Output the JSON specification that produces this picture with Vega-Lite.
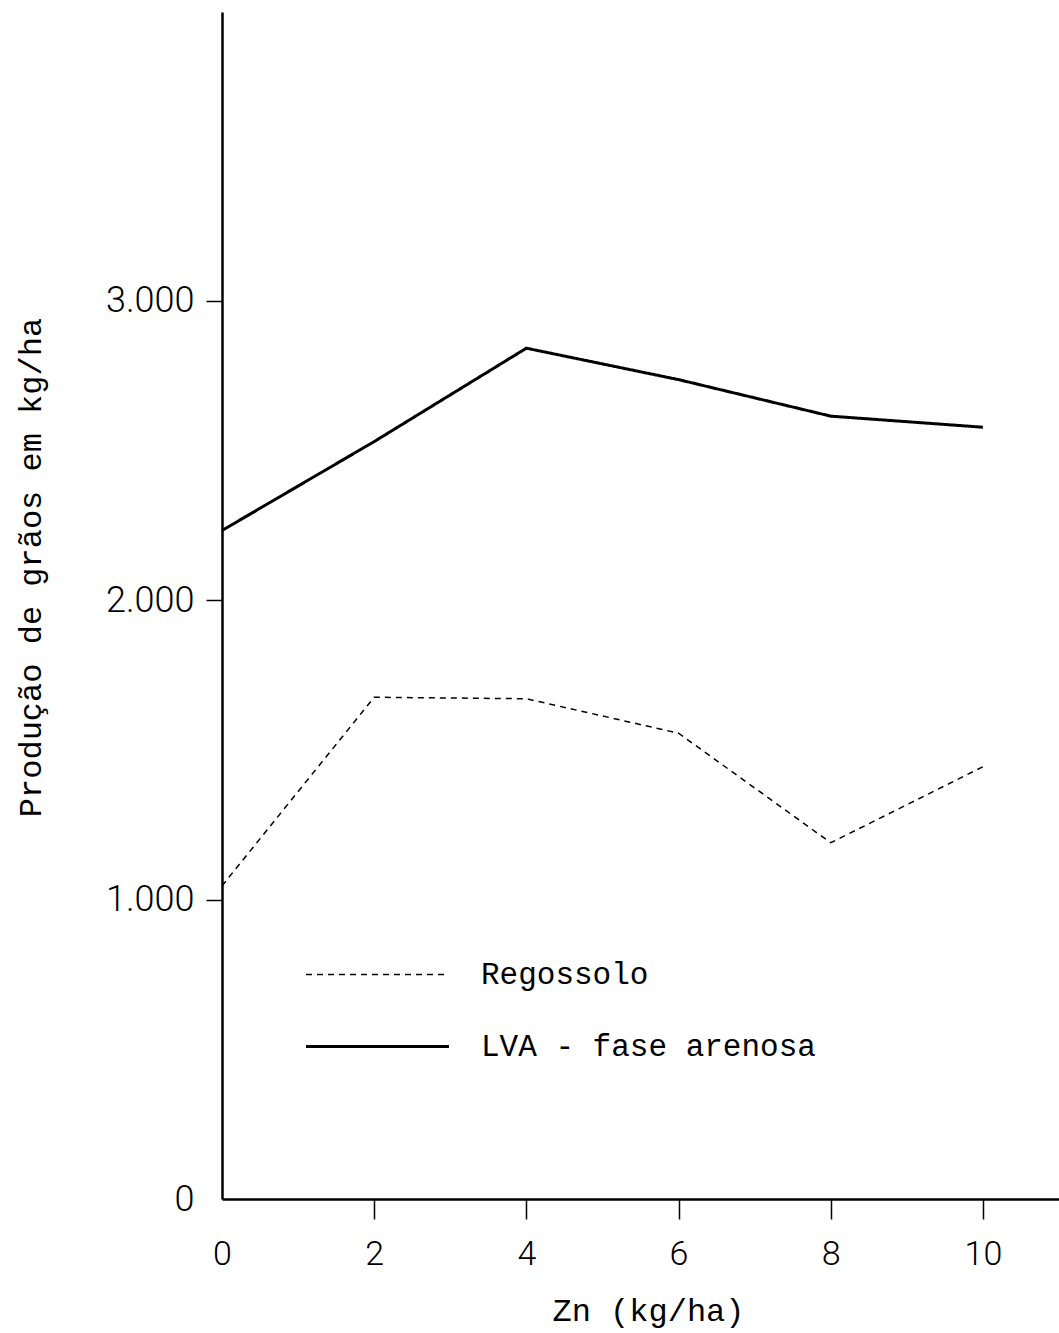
{
  "$schema": "https://vega.github.io/schema/vega-lite/v6.json",
  "width": 837,
  "height": 1187,
  "autosize": "none",
  "padding": {"left": 222, "top": 12, "right": 0, "bottom": 134},
  "background": "white",
  "config": {
    "view": {"stroke": null},
    "axis": {
      "grid": false,
      "domainColor": "black",
      "domainWidth": 2.5,
      "tickColor": "black",
      "tickWidth": 1.5,
      "labelColor": "black",
      "labelFont": "Roboto",
      "labelFontWeight": 300,
      "labelFlush": false,
      "titleColor": "black",
      "titleFont": "Liberation Mono",
      "titleFontWeight": "normal",
      "titleFontSize": 32
    }
  },
  "data": {
    "values": [
      {"zn": 0, "prod": 2233, "solo": "LVA - fase arenosa"},
      {"zn": 2, "prod": 2530, "solo": "LVA - fase arenosa"},
      {"zn": 4, "prod": 2842, "solo": "LVA - fase arenosa"},
      {"zn": 6, "prod": 2737, "solo": "LVA - fase arenosa"},
      {"zn": 8, "prod": 2615, "solo": "LVA - fase arenosa"},
      {"zn": 10, "prod": 2578, "solo": "LVA - fase arenosa"},
      {"zn": 0, "prod": 1046, "solo": "Regossolo"},
      {"zn": 2, "prod": 1676, "solo": "Regossolo"},
      {"zn": 4, "prod": 1671, "solo": "Regossolo"},
      {"zn": 6, "prod": 1556, "solo": "Regossolo"},
      {"zn": 8, "prod": 1190, "solo": "Regossolo"},
      {"zn": 10, "prod": 1444, "solo": "Regossolo"}
    ]
  },
  "encoding": {
    "x": {
      "field": "zn",
      "type": "quantitative",
      "scale": {"domain": [0, 11], "nice": false},
      "axis": {
        "values": [0, 2, 4, 6, 8, 10],
        "format": "d",
        "title": "Zn (kg/ha)",
        "titleX": 426,
        "titleY": 111,
        "titleBaseline": "middle",
        "tickSize": 20,
        "tickOpacity": {"condition": {"test": "datum.value == 0", "value": 0}, "value": 1},
        "labelFontSize": 34,
        "labelPadding": 18
      }
    },
    "y": {
      "field": "prod",
      "type": "quantitative",
      "scale": {"domain": [0, 3965], "nice": false},
      "axis": {
        "values": [0, 1000, 2000, 3000],
        "labelExpr": "datum.value == 0 ? '0' : format(datum.value / 1000, '.3f')",
        "title": "Produção de grãos em kg/ha",
        "titleX": -192,
        "titleY": 555,
        "titleAngle": -90,
        "titleAlign": "center",
        "titleBaseline": "middle",
        "tickSize": 16,
        "tickOpacity": {"condition": {"test": "datum.value == 0", "value": 0}, "value": 1},
        "labelFontSize": 36,
        "labelPadding": 12
      }
    },
    "strokeDash": {
      "field": "solo",
      "type": "nominal",
      "scale": {"domain": ["Regossolo", "LVA - fase arenosa"], "range": [[6, 5], [1, 0]]},
      "legend": {
        "orient": "none",
        "legendX": 140,
        "legendY": 947,
        "direction": "vertical",
        "title": null,
        "symbolType": "stroke",
        "symbolSize": 20449,
        "symbolStrokeColor": "black",
        "labelFont": "Liberation Mono",
        "labelFontSize": 31,
        "labelColor": "black",
        "labelLimit": 0,
        "labelOffset": 88,
        "rowPadding": 40,
        "encode": {
          "symbols": {
            "update": {
              "strokeWidth": {"signal": "datum.value == 'Regossolo' ? 1.5 : 3"}
            }
          }
        }
      }
    }
  },
  "layer": [
    {
      "transform": [{"filter": "datum.solo == 'Regossolo'"}],
      "mark": {"type": "line", "color": "black", "strokeWidth": 1.5, "strokeCap": "butt"}
    },
    {
      "transform": [{"filter": "datum.solo == 'LVA - fase arenosa'"}],
      "mark": {"type": "line", "color": "black", "strokeWidth": 3, "strokeCap": "butt"}
    }
  ]
}
